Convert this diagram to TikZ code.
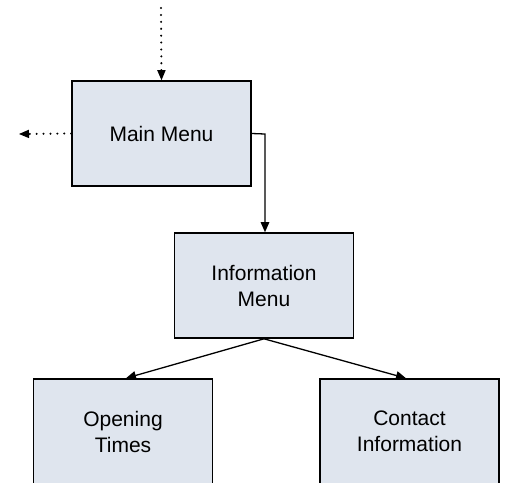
\documentclass[tikz,border=0pt]{standalone}
\usepackage{fontspec}
\setmainfont{Liberation Sans}
\usetikzlibrary{arrows.meta}
\definecolor{boxfill}{HTML}{DFE5EE}
\begin{document}
\begin{tikzpicture}[x=1pt,y=1pt,
  menubox/.style={draw=black, line width=1.6pt, fill=boxfill, minimum width=179pt, minimum height=105pt, inner sep=0pt, align=center, font=\fontsize{21}{26}\selectfont},
  link/.style={line width=1.3pt, -{Triangle[length=10pt,width=8.5pt]}},
  dotlink/.style={line width=2.2pt, line cap=round, dash pattern=on 0.1pt off 6.8pt, -{Triangle[length=10pt,width=8.5pt,line width=0pt]}}]
\useasboundingbox (0,0) rectangle (506,-483);
\clip (0,0) rectangle (506,-482.4);
\node[menubox] (main) at (161.5,-133.5) {Main Menu};
\node[menubox] (info) at (264,-285.5) {Information\\Menu};
\node[menubox] (open) at (123,-431.5) {Opening\\Times};
\node[menubox] (contact) at (409.5,-431.5) {Contact\\Information};
\coordinate (topin) at (161,-8);
\coordinate (leftout) at (19,-134);
\coordinate (bend) at (265,-134);
\draw[dotlink] (topin) -- (main.north);
\draw[dotlink] (main.west) -- (leftout);
\draw[link] (main.east) -- (bend) -- (info.north -| bend);
\draw[link] (info.south) -- ([xshift=3pt]open.north);
\draw[link] (info.south) -- ([xshift=-3.5pt]contact.north);
\end{tikzpicture}
\end{document}
